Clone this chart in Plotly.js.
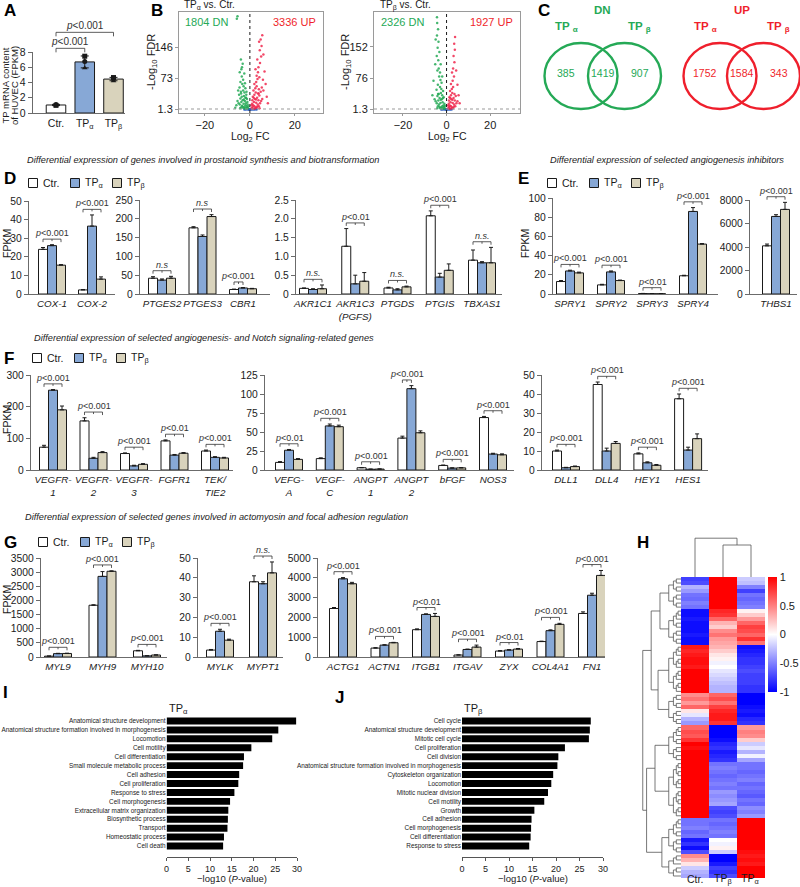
<!DOCTYPE html>
<html>
<head>
<meta charset="utf-8">
<script src="https://cdn.plot.ly/plotly-3.0.1.min.js"></script>
<style>html,body{margin:0;padding:0;background:#fff}#fig{width:800px;height:887px}</style>
</head>
<body>
<div id="fig"></div>
<script>
// groups shared by every bar panel
var groups = ['Ctr.', 'TP<sub>α</sub>', 'TP<sub>β</sub>'];
var groupColors = ['#ffffff', '#87a8d6', '#d9d3bc'];

// A - TP mRNA content (FPKM)
var tpMean = [1.05, 6.7, 4.45];
var tpSD = [0.08, 0.78, 0.22];
var tpReps = [[1.0, 1.12, 1.03], [7.45, 6.75, 5.9], [4.65, 4.5, 4.2]];

// B - volcano points [log2 FC, -log10 FDR]
var volA_dn = [[-0.8,3],[-1.2,5],[-1.5,8],[-2,10],[-2.5,6],[-3,4],[-1,12],[-1.8,15],[-2.2,20],[-2.8,14],[-3.5,9],[-4,5],[-1.3,25],[-2,28],[-2.6,32],[-3.2,22],[-3.8,18],[-4.5,12],[-1.6,35],[-2.4,40],[-3,45],[-3.6,30],[-4.2,26],[-5,15],[-2,50],[-2.8,55],[-3.4,60],[-4,42],[-4.8,35],[-5.5,20],[-3,70],[-3.6,78],[-4.2,65],[-2.5,85],[-3.8,95],[-4.5,88],[-3.2,108],[-4,118],[-3.5,100],[-1.1,18],[-1.5,42],[-6,10],[-6.5,4],[-5.5,220],[-5.8,214],[-2.2,62],[-4.6,52],[-5.2,45],[-0.7,8],[-1.9,3],[-1.4,2],[-2.3,2.5],[-3.3,7],[-4.3,3],[-2.7,24],[-1.7,28],[-3.9,38]];
var volA_up = [[0.8,3],[1.2,6],[1.5,10],[2,8],[2.5,5],[3,4],[1,14],[1.8,18],[2.2,25],[2.8,16],[3.5,12],[4,8],[1.3,30],[2,35],[2.6,40],[3.2,28],[3.8,22],[4.5,15],[1.6,45],[2.4,50],[3,55],[3.6,38],[4.2,33],[5,20],[2,60],[2.8,65],[3.4,72],[4,48],[4.8,42],[5.5,25],[3,80],[3.6,88],[4.2,76],[2.5,95],[3.8,100],[4.5,110],[5,125],[4.4,140],[5.2,150],[4.8,165],[5.5,175],[6,130],[6.5,90],[7,60],[7.5,30],[6,45],[1.1,22],[5.8,70],[0.7,10],[8,15],[3.3,118],[4.1,160],[1.4,2],[2.3,2.5],[3.3,7],[4.3,3],[2.7,24],[1.7,28],[3.9,38],[5.3,52]];
var volA_ns = [[-1.2,0.5],[-0.8,1],[-0.4,0.3],[0,0.8],[0.4,0.2],[0.8,1.1],[1.2,0.4],[1.6,0.9],[-1.6,0.6],[2,0.3],[-2,0.2],[0.2,1.2],[-0.2,0.1],[2.5,0.6],[-2.5,0.4],[3,0.2],[-0.6,0.7],[0.6,0.5]];
var volB_dn = [[-0.8,3],[-1.2,6],[-1.5,10],[-2,8],[-2.5,5],[-3,4],[-1,14],[-1.8,18],[-2.2,25],[-2.8,16],[-3.5,12],[-4,8],[-1.3,30],[-2,35],[-2.6,40],[-3.2,28],[-3.8,22],[-4.5,15],[-1.6,45],[-2.4,50],[-3,55],[-3.6,38],[-4.2,33],[-5,20],[-2.3,65],[-2.8,72],[-3.4,80],[-4,60],[-4.6,48],[-5.5,25],[-3,90],[-3.6,100],[-4.2,95],[-2.7,110],[-3.8,120],[-4.5,130],[-3.3,140],[-4.1,150],[-3.7,165],[-4.4,180],[-3.9,195],[-4.3,210],[-4.4,224],[-5,170],[-6,70],[-5.2,110],[-6.5,35],[-0.7,9],[-1.9,3],[-2,80],[-1.4,2],[-2.3,2.5],[-3.3,7],[-4.3,3],[-2.7,24],[-1.7,28],[-3.9,38]];
var volB_up = [[0.8,3],[1.2,6],[1.5,10],[2,8],[2.5,5],[3,4],[1,14],[1.8,18],[2.2,25],[2.8,16],[3.5,12],[4,8],[1.3,30],[2,35],[2.6,40],[3.2,28],[3.8,22],[4.5,15],[1.6,45],[2.4,50],[3,55],[3.6,38],[4.2,33],[5,20],[2,62],[2.8,70],[3.4,80],[2.5,90],[3,100],[3.6,115],[3.2,130],[3.8,145],[3.5,160],[3.9,176],[4.4,95],[5,60],[5.5,35],[6,15],[0.7,10],[1.1,22],[1.4,2],[2.3,2.5],[3.3,7],[2.7,24],[1.7,28]];
var volB_ns = [[-1.2,0.5],[-0.8,1],[-0.4,0.3],[0,0.8],[0.4,0.2],[0.8,1.1],[1.2,0.4],[1.6,0.9],[-1.6,0.6],[2,0.3],[-2,0.2],[0.2,1.2],[-0.2,0.1],[2.5,0.6],[-2.5,0.4],[-0.6,0.7],[0.6,0.5]];

// C - venn counts [TPa only, both, TPb only]
var vennDN = [385, 1419, 907];
var vennUP = [1752, 1584, 343];

// significance labels
var P3 = '<i>p</i>&lt;0.001', P2 = '<i>p</i>&lt;0.01', NS = '<i>n.s.</i>', NS0 = '<i>n.s</i>';

// D - prostanoid synthesis (means / errors: [Ctr, TPa, TPb])
var d1Genes = ['COX-1', 'COX-2'];
var d1Mean = [[24, 2.2], [26, 36.5], [15.5, 8]];
var d1Err = [[1, 0.2], [0.5, 6], [0.3, 1.2]];
var d1Sig = [P3, P3];

var d2Genes = ['PTGES2', 'PTGES3', 'CBR1'];
var d2Mean = [[42, 176, 12], [37, 153, 16], [42, 206, 14]];
var d2Err = [[4, 3, 1], [3, 4, 1], [5, 5, 1]];
var d2Sig = [NS0, NS0, P3];
var d2Span = [2, 2, 1];

var d3Genes = ['AKR1C1', 'AKR1C3<br>(PGFS)', 'PTGDS', 'PTGIS', 'TBXAS1'];
var d3Mean = [[0.15, 1.27, 0.16, 2.08, 0.9], [0.12, 0.27, 0.11, 0.45, 0.83], [0.14, 0.34, 0.19, 0.63, 0.83]];
var d3Err = [[0.01, 0.47, 0.02, 0.13, 0.27], [0.02, 0.23, 0.03, 0.1, 0.03], [0.1, 0.23, 0.02, 0.17, 0.41]];
var d3Sig = [NS, P2, NS, P3, NS];

// E - angiogenesis inhibitors
var e1Genes = ['SPRY1', 'SPRY2', 'SPRY3', 'SPRY4'];
var e1Mean = [[13, 9.5, 0.5, 19], [24, 23, 0.3, 86], [22, 14, 0.3, 52]];
var e1Err = [[1, 0.6, 0.1, 0.5], [0.8, 1, 0.05, 4], [0.8, 0.5, 0.05, 0.5]];
var e1Sig = [P3, P3, P2, P3];

var e2Genes = ['THBS1'];
var e2Mean = [[4100], [6600], [7200]];
var e2Err = [[150], [150], [600]];
var e2Sig = [P3];

// F - angiogenesis / Notch
var f1Genes = ['VEGFR-<br>1', 'VEGFR-<br>2', 'VEGFR-<br>3', 'FGFR1', 'TEK/<br>TIE2'];
var f1Mean = [[72, 155, 52, 92, 60], [252, 37, 13, 47, 40], [190, 55, 18, 53, 38]];
var f1Err = [[6, 10, 2, 3, 3], [2, 3, 2, 2, 2], [12, 3, 2, 2, 2]];
var f1Sig = [P3, P3, P3, P2, P3];

var f2Genes = ['VEFG-<br>A', 'VEGF-<br>C', 'ANGPT<br>1', 'ANGPT<br>2', 'bFGF', 'NOS3'];
var f2Mean = [[10, 15, 3, 42, 6, 69], [26, 58, 1, 107, 2.5, 21], [14, 57, 1.2, 49, 2.8, 20]];
var f2Err = [[1, 1, 0.3, 2.5, 0.5, 1.5], [1, 2.5, 0.2, 4, 0.3, 1], [1, 2, 0.2, 2.5, 0.3, 1.2]];
var f2Sig = [P2, P3, P3, P3, P3, P3];
var f2Span = [2, 2, 2, 1, 2, 2];

var f3Genes = ['DLL1', 'DLL4', 'HEY1', 'HES1'];
var f3Mean = [[10, 45, 8.5, 37.5], [1.2, 10, 3.8, 10.5], [1.8, 14, 2.5, 16.5]];
var f3Err = [[0.5, 1.3, 0.5, 2.5], [0.2, 1.5, 0.5, 1.5], [0.3, 1, 0.4, 2.5]];
var f3Sig = [P3, P3, P3, P3];

// G - actomyosin / focal adhesion
var g1Genes = ['MYL9', 'MYH9', 'MYH10'];
var g1Mean = [[30, 1830, 220], [120, 2850, 40], [125, 3030, 70]];
var g1Err = [[5, 15, 15], [10, 170, 5], [8, 15, 5]];
var g1Sig = [P3, P3, P3];

var g2Genes = ['MYLK', 'MYPT1'];
var g2Mean = [[3.5, 38], [13, 37], [8.5, 42.5]];
var g2Err = [[0.3, 3], [1, 1], [0.5, 5.5]];
var g2Sig = [P3, NS];

var g3Genes = ['ACTG1', 'ACTN1', 'ITGB1', 'ITGAV', 'ZYX', 'COL4A1', 'FN1'];
var g3Mean = [[2450, 450, 1380, 100, 300, 780, 2200], [3950, 600, 2150, 380, 350, 1330, 3120], [3700, 720, 2050, 500, 400, 1650, 4120]];
var g3Err = [[50, 20, 40, 10, 20, 20, 80], [60, 20, 30, 20, 20, 40, 100], [70, 20, 150, 100, 30, 50, 250]];
var g3Sig = [P3, P3, P2, P3, P2, P3, P3];

// H - heatmap, columns Ctr., TPb, TPa
var hmCols = ['Ctr.', 'TP<sub>β</sub>', 'TP<sub>α</sub>'];
var hmZ = [
  [-0.75, 1, -0.2], [-0.7, 1, -0.25], [-0.3, 1, -0.5], [-0.4, 1, -0.75],
  [-0.55, 1, -0.55], [-0.58, 1, -0.6], [-0.5, 1, -0.55], [-0.55, 1, -0.5],
  [-0.95, 0.85, 0.05], [-0.95, 0.8, 0.2], [-0.9, 0.6, 0.4], [-0.95, 0.3, 0.6],
  [-0.95, 0.2, 0.75], [-0.95, 0.45, 0.7], [-0.9, 0.55, 0.6], [-0.95, 0.4, 0.8], [-0.95, 0.35, 0.55],
  [0.9, 0.3, -0.95], [0.85, 0.2, -0.9], [0.9, 0.1, -0.85], [0.95, 0.05, -0.8],
  [0.95, -0.05, -0.8], [0.9, 0.0, -0.75], [1, -0.1, -0.7], [1, -0.15, -0.75],
  [1, -0.2, -0.75], [1, -0.25, -0.75], [1, -0.3, -0.8], [1, -0.3, -0.8],
  [0.45, 0.6, -1], [0.55, 0.7, -1], [0.4, 0.55, -1], [0.6, 0.75, -0.95],
  [0.1, 0.85, -0.9], [-0.1, 0.9, -0.95], [-0.3, 0.9, -0.85], [-0.4, 0.8, -0.8],
  [0.6, -1, 0.4], [0.7, -1, 0.5], [0.65, -1, 0.45], [0.8, -0.95, 0.2],
  [1, -0.85, -0.2], [0.95, -0.8, -0.1], [1, -0.9, -0.3], [1, -0.85, -0.05], [1, -0.8, -0.35],
  [1, -0.55, -0.55], [1, -0.5, -0.55], [1, -0.55, -0.6], [1, -0.6, -0.55],
  [1, -0.55, -0.5], [1, -0.5, -0.6], [1, -0.55, -0.55],
  [1, -0.4, -0.6], [1, -0.45, -0.65], [1, -0.4, -0.55], [1, -0.35, -0.6],
  [1, -0.7, -0.45], [1, -0.75, -0.5], [1, -0.7, -0.4],
  [-0.55, -0.55, 1], [-0.55, -0.6, 1], [-0.5, -0.55, 1], [-0.6, -0.5, 1], [-0.55, -0.55, 1],
  [-0.9, 0.0, 1], [-0.8, -0.05, 1], [-0.95, 0.05, 1], [-0.7, -0.2, 0.95],
  [0.45, -1, 0.9], [0.3, -1, 0.95], [0.1, -0.9, 0.9],
  [-0.2, -0.75, 1], [-0.3, -0.8, 1], [-0.35, -0.7, 1]
];
var hmBlocks = [[0, 7], [8, 16], [17, 28], [29, 36], [37, 45], [46, 59], [60, 68], [69, 74]];
var rowTree = {h: 1, c: [{h: 0.78, c: [{h: 0.55, c: [0, 1]}, {h: 0.6, c: [2, 3]}]},
                         {h: 0.9, c: [{h: 0.68, c: [4, 5]}, {h: 0.5, c: [6, 7]}]}]};
var colTree = {h: 0.97, c: [0, {h: 0.8, c: [1, 2]}]};

// I / J - GO terms, -log10(P)
var goAlphaTerms = ['Anatomical structure development', 'Anatomical structure formation involved in morphogenesis', 'Locomotion', 'Cell motility', 'Cell differentiation', 'Small molecule metabolic process', 'Cell adhesion', 'Cell proliferation', 'Response to stress', 'Cell morphogenesis', 'Extracellular matrix organization', 'Biosynthetic process', 'Transport', 'Homeostatic process', 'Cell death'];
var goAlphaP = [29.8, 25.7, 24.3, 19.5, 17.8, 17.6, 16.7, 16.5, 15.6, 14.6, 14.2, 14.1, 14.0, 13.2, 13.0];
var goBetaTerms = ['Cell cycle', 'Anatomical structure development', 'Mitotic cell cycle', 'Cell proliferation', 'Cell division', 'Anatomical structure formation involved in morphogenesis', 'Cytoskeleton organization', 'Locomotion', 'Mitotic nuclear division', 'Cell motility', 'Growth', 'Cell adhesion', 'Cell morphogenesis', 'Cell differentiation', 'Response to stress'];
var goBetaP = [27.4, 27.2, 27.0, 21.9, 20.5, 20.3, 19.4, 19.0, 18.3, 17.5, 15.4, 14.8, 14.7, 14.6, 14.3];

// ---------------------------------------------------------------
var W = 800, H = 887;
function fx(p) { return p / W; }
function fy(p) { return 1 - p / H; }
var FONT = 'Arial, "Liberation Sans", Helvetica, sans-serif';
var AX = '#6b6b6b', INK = '#1a1a1a';
var GREEN = '#25a956', RED = '#ef1f2c';
var traces = [], annotations = [], shapes = [];
var layout = {
  width: W, height: H, margin: {l: 0, r: 0, t: 0, b: 0},
  paper_bgcolor: '#fff', plot_bgcolor: 'rgba(0,0,0,0)', showlegend: false,
  font: {family: FONT, size: 11, color: INK},
  annotations: annotations, shapes: shapes
};
function idx(arr) { return arr.map(function (v, i) { return i; }); }
function refs(n) {
  var s = n === 1 ? '' : String(n);
  return {xk: 'xaxis' + s, yk: 'yaxis' + s, xr: 'x' + s, yr: 'y' + s};
}
function note(text, x, y, o) {
  o = o || {};
  annotations.push({
    xref: 'paper', yref: 'paper', x: fx(x), y: fy(y), text: String(text), showarrow: false,
    xanchor: o.xa || 'center', yanchor: o.ya || 'middle', textangle: o.angle || 0,
    font: {family: FONT, size: o.size || 11, color: o.color || INK, style: o.style || 'normal', weight: o.weight || 'normal'}
  });
}
// bracket drawn on the page (not clipped by the axes); points are page pixels
function bracketPath(pts) {
  var d = '';
  pts.forEach(function (seg) {
    seg.forEach(function (p, j) { d += (j ? 'L' : 'M') + fx(p[0]) + ',' + fy(p[1]); });
  });
  shapes.push({type: 'path', xref: 'paper', yref: 'paper', path: d, line: {color: '#333', width: 0.8}});
}
function legendRow(x, y) {
  groups.forEach(function (g, k) {
    var cx = x + 42 * k;
    shapes.push({type: 'rect', xref: 'paper', yref: 'paper', x0: fx(cx - 4.5), x1: fx(cx + 4.5),
      y0: fy(y + 4.5), y1: fy(y - 4.5), fillcolor: groupColors[k], line: {color: INK, width: 1}});
    note(g, cx + 8, y, {xa: 'left', size: 10.5});
  });
}

// grouped bar panel with significance brackets
function barPanel(n, box, genes, mean, err, sig, span, ymax, dtick, yText) {
  var r = refs(n);
  var w = 9 / box.s;
  var pos = idx(genes);
  function X(v) { return box.c0 + v * box.s; }
  function Y(v) { return box.yb - v / ymax * (box.yb - box.yt); }
  for (var k = 0; k < 3; k++) {
    traces.push({
      type: 'bar', x: pos, y: mean[k], xaxis: r.xr, yaxis: r.yr, width: w, offset: (k - 1.5) * w,
      marker: {color: groupColors[k], line: {color: INK, width: 1}},
      error_y: {type: 'data', symmetric: false, array: err[k], arrayminus: err[k].map(function () { return 0; }),
        color: INK, thickness: 1, width: 2},
      hoverinfo: 'skip'
    });
  }
  genes.forEach(function (g, i) {
    if (!sig[i]) return;
    var last = span ? span[i] : 2, top = 0;
    for (var k = 0; k <= last; k++) top = Math.max(top, mean[k][i] + err[k][i]);
    var lvl = Y(top + 0.06 * ymax);
    var x0 = X(i - w), x1 = X(i + (last - 1) * w), xm = (x0 + x1) / 2;
    bracketPath([[[x0, lvl + 3], [x0, lvl], [x1, lvl], [x1, lvl + 3]], [[xm, lvl], [xm, lvl + 2]]]);
    note(sig[i], xm, lvl + 1, {ya: 'bottom', size: 9, color: '#333'});
  });
  layout[r.xk] = {
    domain: [fx(box.x0), fx(box.x1)], range: [(box.x0 - box.c0) / box.s, (box.x1 - box.c0) / box.s],
    anchor: r.yr, tickvals: pos, ticktext: genes, ticks: '', tickangle: 0, showline: true, linecolor: AX, linewidth: 1.2,
    showgrid: false, zeroline: false, tickfont: {size: 9.8, style: 'italic', color: INK}
  };
  var ya = {
    domain: [fy(box.yb), fy(box.yt)], range: [0, ymax], anchor: r.xr, ticks: 'outside', ticklen: 4,
    tickcolor: AX, showline: true, linecolor: AX, linewidth: 1.2, showgrid: false, zeroline: false,
    tickfont: {size: 10.3, color: INK}
  };
  if (yText) { ya.tickvals = yText.map(Number); ya.ticktext = yText; } else { ya.dtick = dtick; }
  layout[r.yk] = ya;
}

// ---------------- A ----------------
(function () {
  var r = refs(1), pos = idx(groups);
  traces.push({type: 'bar', x: pos, y: tpMean, width: 0.68, xaxis: r.xr, yaxis: r.yr,
    marker: {color: groupColors, line: {color: INK, width: 1}},
    error_y: {type: 'data', array: tpSD, color: INK, thickness: 1, width: 4}, hoverinfo: 'skip'});
  var px = [], py = [], sym = [], symbols = ['square', 'circle', 'triangle-up'];
  tpReps.forEach(function (reps, i) {
    reps.forEach(function (v, j) { px.push(i); py.push(v); sym.push(symbols[j]); });
  });
  traces.push({type: 'scatter', mode: 'markers', x: px, y: py, xaxis: r.xr, yaxis: r.yr,
    marker: {color: INK, size: 5, symbol: sym}, cliponaxis: false, hoverinfo: 'skip'});
  var c0 = 56, s = 28.75;
  function Y(v) { return 113 - v / 8 * 61; }
  var top = Math.max(tpMean[0] + tpSD[0], tpMean[1] + tpSD[1]);
  var l1 = Y(top + 1.0), l2 = l1 - 16;
  bracketPath([[[c0, l1 + 4], [c0, l1], [c0 + s, l1], [c0 + s, l1 + 4]]]);
  bracketPath([[[c0, l2 + 4], [c0, l2], [c0 + 2 * s, l2], [c0 + 2 * s, l2 + 4]]]);
  note(P3, c0 + 0.5 * s, l1 + 1, {ya: 'bottom', size: 10, color: '#333'});
  note(P3, c0 + 1 * s, l2 + 1, {ya: 'bottom', size: 10, color: '#333'});
  layout[r.xk] = {domain: [fx(33), fx(125)], range: [-0.8, 2.4], anchor: r.yr, tickvals: pos, ticktext: groups,
    ticks: '', tickangle: 0, showline: true, linecolor: AX, linewidth: 1.2, showgrid: false, zeroline: false, tickfont: {size: 10.5}};
  layout[r.yk] = {domain: [fy(113), fy(52)], range: [0, 8], anchor: r.xr, dtick: 2, ticks: 'outside', ticklen: 4,
    tickcolor: AX, showline: true, linecolor: AX, linewidth: 1.2, showgrid: false, zeroline: false, tickfont: {size: 10.5}};
  note('TP mRNA content', 4.5, 86, {angle: -90, size: 9.5});
  note('of HUVEC (FPKM)', 14, 86, {angle: -90, size: 9.5});
})();

// ---------------- B ----------------
function volcano(n, box, dn, up, ns, yTicks) {
  var r = refs(n);
  [[ns, '#2a5fc6'], [dn, GREEN], [up, '#f0284e']].forEach(function (s) {
    traces.push({type: 'scatter', mode: 'markers', xaxis: r.xr, yaxis: r.yr, hoverinfo: 'skip',
      x: s[0].map(function (p) { return p[0]; }), y: s[0].map(function (p) { return p[1]; }),
      marker: {color: s[1], size: 2.5, opacity: 0.85}});
  });
  layout[r.xk] = {domain: [fx(box.x0), fx(box.x1)], range: box.xr, anchor: r.yr, tickvals: [-20, 0, 20],
    ticks: 'outside', ticklen: 2, tickangle: 0, tickcolor: '#999', showline: true, mirror: true, linecolor: '#9a9a9a',
    linewidth: 1, showgrid: false, zeroline: false, tickfont: {size: 11}};
  layout[r.yk] = {domain: [fy(box.yb), fy(box.yt)], range: box.yr, anchor: r.xr, tickvals: yTicks,
    ticktext: yTicks.map(String), ticks: 'outside', ticklen: 3, tickcolor: '#999', showline: true, mirror: true,
    linecolor: '#9a9a9a', linewidth: 1, showgrid: false, zeroline: false, tickfont: {size: 11}};
  shapes.push({type: 'line', xref: r.xr + ' domain', x0: 0, x1: 1, yref: r.yr, y0: 1.3, y1: 1.3,
    line: {color: '#999', width: 1, dash: 'dot'}});
  shapes.push({type: 'line', xref: r.xr, x0: 0, x1: 0, yref: r.yr + ' domain', y0: 0, y1: 1,
    line: {color: INK, width: 1, dash: 'dot'}});
}
volcano(2, {x0: 179, x1: 323, yt: 12, yb: 113, xr: [-31.5, 32.5], yr: [-8.1, 230]}, volA_dn, volA_up, volA_ns, [1.3, 73, 146]);
volcano(3, {x0: 374, x1: 520, yt: 12, yb: 113, xr: [-33.3, 33.7], yr: [-8.4, 237]}, volB_dn, volB_up, volB_ns, [1.3, 76, 152]);
note('TP<sub>α</sub> vs. Ctr.', 182, 5, {xa: 'left', size: 10});
note('TP<sub>β</sub> vs. Ctr.', 378, 5, {xa: 'left', size: 10});
note('1804 DN', 183, 22, {xa: 'left', size: 11, color: GREEN});
note('3336 UP', 318, 22, {xa: 'right', size: 11, color: RED});
note('2326 DN', 379, 22, {xa: 'left', size: 11, color: GREEN});
note('1927 UP', 515, 22, {xa: 'right', size: 11, color: RED});
note('-Log<sub>10</sub> FDR', 152, 62, {angle: -90, size: 11});
note('-Log<sub>10</sub> FDR', 346, 62, {angle: -90, size: 11});
note('Log<sub>2</sub> FC', 251, 137, {size: 10.5});
note('Log<sub>2</sub> FC', 447, 137, {size: 10.5});

// ---------------- C ----------------
function venn(counts, cxL, color, title) {
  var cy = 76, rx = 36.5, ry = 33, gap = 43.5;
  [cxL, cxL + gap].forEach(function (cx) {
    shapes.push({type: 'circle', xref: 'paper', yref: 'paper', x0: fx(cx - rx), x1: fx(cx + rx),
      y0: fy(cy + ry), y1: fy(cy - ry), line: {color: color, width: 2.4}});
  });
  note(counts[0], cxL - 15, 73, {color: color, size: 10.5});
  note(counts[1], cxL + gap / 2, 73, {color: color, size: 10.5});
  note(counts[2], cxL + gap + 15, 73, {color: color, size: 10.5});
  note('<b>TP <sub>α</sub></b>', cxL - 15, 27, {color: color, size: 11.5});
  note('<b>TP <sub>β</sub></b>', cxL + gap + 15, 27, {color: color, size: 11.5});
  note('<b>' + title + '</b>', cxL + gap / 2, 10, {color: color, size: 11.5});
}
venn(vennDN, 581, GREEN, 'DN');
venn(vennUP, 720, RED, 'UP');

// ---------------- D / E ----------------
barPanel(5, {x0: 29, x1: 115, c0: 52, s: 40, yt: 201, yb: 294}, d1Genes, d1Mean, d1Err, d1Sig, null, 50, 10);
barPanel(6, {x0: 140, x1: 270, c0: 162, s: 40.5, yt: 200, yb: 294}, d2Genes, d2Mean, d2Err, d2Sig, d2Span, 250, 50);
barPanel(7, {x0: 296, x1: 502, c0: 313, s: 42.25, yt: 200, yb: 294}, d3Genes, d3Mean, d3Err, d3Sig, null, 2.5, 0,
  ['0', '0.5', '1.0', '1.5', '2.0', '2.5']);
barPanel(8, {x0: 553, x1: 718, c0: 570, s: 41, yt: 198, yb: 294}, e1Genes, e1Mean, e1Err, e1Sig, null, 100, 20);
barPanel(9, {x0: 750, x1: 797, c0: 776, s: 40, yt: 200, yb: 294}, e2Genes, e2Mean, e2Err, e2Sig, null, 8000, 2000);

// ---------------- F ----------------
barPanel(10, {x0: 31, x1: 233, c0: 53, s: 40.5, yt: 375, yb: 470}, f1Genes, f1Mean, f1Err, f1Sig, null, 300, 100);
barPanel(11, {x0: 265, x1: 514, c0: 289, s: 40.8, yt: 375, yb: 470}, f2Genes, f2Mean, f2Err, f2Sig, f2Span, 125, 25);
barPanel(12, {x0: 542, x1: 708, c0: 566, s: 40.7, yt: 375, yb: 470}, f3Genes, f3Mean, f3Err, f3Sig, null, 50, 10);

// ---------------- G ----------------
barPanel(13, {x0: 41, x1: 167, c0: 58, s: 44.5, yt: 558, yb: 657}, g1Genes, g1Mean, g1Err, g1Sig, null, 3500, 500);
barPanel(14, {x0: 198, x1: 283, c0: 220, s: 43, yt: 558, yb: 657}, g2Genes, g2Mean, g2Err, g2Sig, null, 50, 10);
barPanel(15, {x0: 318, x1: 605, c0: 343, s: 41.5, yt: 558, yb: 657}, g3Genes, g3Mean, g3Err, g3Sig, null, 5000, 1000);

// ---------------- H ----------------
traces.push({type: 'heatmap', z: hmZ, x: idx(hmCols), y: idx(hmZ), xaxis: 'x16', yaxis: 'y16',
  zmin: -1, zmax: 1, colorscale: [[0, '#0000ff'], [0.5, '#ffffff'], [1, '#ff0000']], hoverinfo: 'skip',
  colorbar: {x: fx(768), xanchor: 'left', xref: 'paper', y: fy(577), yanchor: 'top', yref: 'paper',
    len: 115 / H, lenmode: 'fraction', thickness: 9, thicknessmode: 'pixels', outlinewidth: 0,
    xpad: 0, ypad: 0, ticks: '', tickvals: [-1, -0.5, 0, 0.5, 1], ticktext: ['-1', '-0.5', '0', '0.5', '1'],
    tickfont: {size: 11}}});
layout.xaxis16 = {domain: [fx(681), fx(765)], range: [-0.5, 2.5], anchor: 'y16', showticklabels: false,
  ticks: '', showline: false, showgrid: false, zeroline: false};
layout.yaxis16 = {domain: [fy(878), fy(577)], range: [hmZ.length - 0.5, -0.5], anchor: 'x16', visible: false};
hmCols.forEach(function (c, i) { note(c, 695 + i * 27.7, 878.5, {size: 10.5}); });

function subTree(lo, hi, h) {
  if (lo === hi) return lo;
  var mid = Math.floor((lo + hi) / 2);
  return {h: h, c: [subTree(lo, mid, h * 0.62), subTree(mid + 1, hi, h * 0.62)]};
}
function expand(node) {
  if (typeof node === 'number') return subTree(hmBlocks[node][0], hmBlocks[node][1], 0.32);
  return {h: node.h, c: node.c.map(expand)};
}
function walk(node, segs) {
  if (typeof node === 'number') return [node, 0];
  var kids = node.c.map(function (k) { return walk(k, segs); });
  var a = kids[0], b = kids[kids.length - 1];
  kids.forEach(function (k) { segs.push([k[1], k[0], node.h, k[0]]); });
  segs.push([node.h, a[0], node.h, b[0]]);
  return [(a[0] + b[0]) / 2, node.h];
}
var rowSegs = [], colSegs = [];
walk(expand(rowTree), rowSegs);
walk(colTree, colSegs);
var rdx = [], rdy = [], cdx = [], cdy = [];
rowSegs.forEach(function (s) { rdx.push(s[0], s[2], null); rdy.push(s[1], s[3], null); });
colSegs.forEach(function (s) { cdx.push(s[1], s[3], null); cdy.push(s[0], s[2], null); });
traces.push({type: 'scatter', mode: 'lines', x: rdx, y: rdy, xaxis: 'x17', yaxis: 'y17',
  line: {color: '#555', width: 0.8}, hoverinfo: 'skip', cliponaxis: false});
traces.push({type: 'scatter', mode: 'lines', x: cdx, y: cdy, xaxis: 'x18', yaxis: 'y18',
  line: {color: '#555', width: 0.8}, hoverinfo: 'skip', cliponaxis: false});
layout.xaxis17 = {domain: [fx(642), fx(681)], range: [1.02, 0], anchor: 'y17', visible: false};
layout.yaxis17 = {domain: [fy(878), fy(577)], range: [hmZ.length - 0.5, -0.5], anchor: 'x17', visible: false};
layout.xaxis18 = {domain: [fx(681), fx(765)], range: [-0.5, 2.5], anchor: 'y18', visible: false};
layout.yaxis18 = {domain: [fy(577), fy(537)], range: [0, 1], anchor: 'x18', visible: false};

// ---------------- I / J ----------------
function goPanel(n, terms, vals, x0, x1, title) {
  var r = refs(n), pos = idx(terms);
  traces.push({type: 'bar', orientation: 'h', x: vals, y: pos, width: 0.78, xaxis: r.xr, yaxis: r.yr,
    marker: {color: '#000'}, hoverinfo: 'skip'});
  layout[r.xk] = {domain: [fx(x0), fx(x1)], range: [0, 30], anchor: 'free', position: fy(857), dtick: 5,
    ticks: 'outside', ticklen: 3, tickangle: 0, tickcolor: '#555', showline: true, linecolor: '#555', linewidth: 1,
    showgrid: false, zeroline: false, tickfont: {size: 9}};
  layout[r.yk] = {domain: [fy(850.5), fy(716.5)], range: [terms.length - 0.5, -0.5], anchor: r.xr,
    tickvals: pos, ticktext: terms, ticks: '', showline: false, showgrid: false, zeroline: false,
    tickfont: {size: 6.4}};
  note('−log10 (<i>P</i>-value)', (x0 + x1) / 2, 878, {size: 9.5});
  note(title, x0, 709, {xa: 'left', size: 11});
}
goPanel(19, goAlphaTerms, goAlphaP, 166.6, 297, 'TP<sub>α</sub>');
goPanel(20, goBetaTerms, goBetaP, 462, 603, 'TP<sub>β</sub>');

// ---------------- text furniture ----------------
note('Differential expression of genes involved in prostanoid synthesis and biotransformation', 203, 160, {size: 9.2, style: 'italic'});
note('Differential expression of selected angiogenesis inhibitors', 667, 160, {size: 9.2, style: 'italic'});
note('Differential expression of selected angiogenesis- and Notch signaling-related genes', 32, 338, {xa: 'left', size: 9.2, style: 'italic'});
note('Differential expression of selected genes involved in actomyosin and focal adhesion regulation', 23, 517, {xa: 'left', size: 9.2, style: 'italic'});
legendRow(33, 183);
legendRow(552, 183);
legendRow(37, 358);
legendRow(43, 542);
note('FPKM', 7, 244, {angle: -90, size: 10.5});
note('FPKM', 525, 244, {angle: -90, size: 10.5});
note('FPKM', 7, 420, {angle: -90, size: 10.5});
note('FPKM', 7, 600, {angle: -90, size: 10.5});

[['A', 2, 10], ['B', 149, 10], ['C', 536, 10], ['D', 2, 178], ['E', 516, 178], ['F', 2, 358],
 ['G', 2, 542], ['H', 635, 542], ['I', 1, 692], ['J', 333, 697]].forEach(function (p) {
  note(p[0], p[1], p[2], {xa: 'left', size: 17, weight: 'bold', color: '#000'});
});

Plotly.newPlot('fig', traces, layout, {staticPlot: true});
</script>
</body>
</html>
